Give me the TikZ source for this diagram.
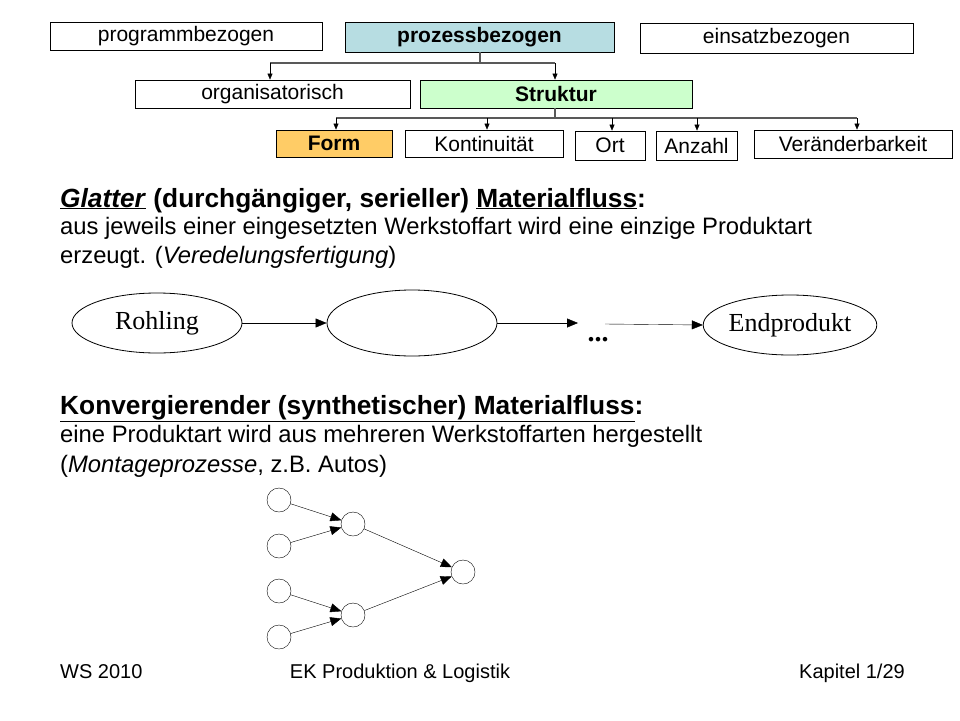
\documentclass[tikz,border=0pt]{standalone}
\usepackage{fontspec}
\setmainfont{Liberation Sans}
\newfontfamily\serifx{Liberation Serif}
\usetikzlibrary{arrows.meta,shapes.geometric}
\begin{document}
\begin{tikzpicture}[x=1pt,y=-1pt,
  box/.style={draw,thick,inner sep=0pt,font=\fontsize{21}{21}\selectfont},
  bbox/.style={box,font=\bfseries\fontsize{21}{21}\selectfont},
  conn/.style={draw=gray!70!black,line width=1.5pt},
  arr/.style={-{Triangle[length=6pt,width=5pt]},black,thin},
  ell/.style={draw,thick,ellipse,inner sep=0pt,font=\serifx\fontsize{26}{26}\selectfont},
  circ/.style={draw,circle,minimum size=24pt,inner sep=0pt},
  tarr/.style={-{Triangle[length=11pt,width=9pt]},thin,black},
  body/.style={anchor=base west,inner sep=0pt,font=\fontsize{23.8}{23.8}\selectfont},
  head/.style={anchor=base west,inner sep=0pt,font=\fontsize{26.3}{26.3}\selectfont},
  foot/.style={inner sep=0pt,font=\fontsize{20}{20}\selectfont,anchor=base}]
\useasboundingbox (0,0) rectangle (960,720);
\node[box,minimum width=272pt,minimum height=28pt] (pg) at (186,36) {programmbezogen};
\node[bbox,fill={rgb,255:red,183;green,221;blue,226},minimum width=269pt,minimum height=30pt] (pz) at (479.5,37) {prozessbezogen};
\node[box,minimum width=273pt,minimum height=30pt] (ez) at (776.5,38) {einsatzbezogen};
\node[box,minimum width=275pt,minimum height=28pt] (org) at (272.5,94) {organisatorisch};
\node[bbox,fill={rgb,255:red,204;green,255;blue,204},minimum width=272pt,minimum height=28pt] (st) at (556,94) {Struktur};
\node[bbox,fill={rgb,255:red,255;green,204;blue,102},minimum width=116pt,minimum height=27pt] (fo) at (334,143.5) {Form};
\node[box,minimum width=158pt,minimum height=27pt] (ko) at (484,143.5) {Kontinuität};
\node[box,minimum width=70pt,minimum height=29pt] (ort) at (610,145.5) {Ort};
\node[box,minimum width=81pt,minimum height=29pt] (an) at (696.5,145.5) {Anzahl};
\node[box,minimum width=198pt,minimum height=28pt] (ve) at (853,144) {Veränderbarkeit};
% connectors
\coordinate (j1) at (480,63);
\draw[conn] (pz.south -| j1) -- (j1);
\draw[conn] (270,63) -- (555,63);
\draw[arr] (270,63) -- (org.north -| 270,0);
\draw[arr] (555,63) -- (st.north -| 555,0);
\coordinate (j2) at (555,118);
\draw[conn] (st.south -| j2) -- (j2);
\draw[conn] (336,118) -- (857,118);
\draw[arr] (336,118) -- (fo.north -| 336,0);
\draw[arr] (487,118) -- (ko.north -| 487,0);
\draw[arr] (612,118) -- (ort.north -| 612,0);
\draw[arr] (697,118) -- (an.north -| 697,0);
\draw[arr] (857,118) -- (ve.north -| 857,0);
% text 1
\node[head] (h1) at (60,207) {\underline{\textbf{\textit{Glatter}}}\textbf{ (durchgängiger, serieller) \underline{Materialfluss}:}};
\node[body] (t1) at (60,234) {aus jeweils einer eingesetzten Werkstoffart wird eine einzige Produktart};
\node[body] (t2) at (60,263) {erzeugt. (\textit{Veredelungsfertigung})};
% ellipses
\node[ell,minimum width=170pt,minimum height=60pt] (e1) at (157,323) {Rohling};
\node[ell,minimum width=170pt,minimum height=66pt] (e2) at (412,323) {};
\node[ell,minimum width=170pt,minimum height=60pt] (e3) at (790,325) {Endprodukt};
\coordinate (d) at (578,323);
\coordinate (d2) at (605,324);
\node[font=\serifx\bfseries\fontsize{28}{28}\selectfont,inner sep=0pt] (dots) at (598,340) {...};
\draw[tarr] (e1) -- (e2);
\draw[tarr] (e2) -- (d);
\draw[tarr] (d2) -- (e3.west);
% text 2
\node[head] (h2) at (60,414) {\textbf{\underline{Konvergierender (synthetischer) Materialfluss}:}};
\node[body] (t3) at (60,442) {eine Produktart wird aus mehreren Werkstoffarten hergestellt};
\node[body] (t4) at (60,472) {(\textit{Montageprozesse}, z.B. Autos)};
% tree
\node[circ] (a1) at (279,500) {};
\node[circ] (a2) at (279,546) {};
\node[circ] (a3) at (279,591) {};
\node[circ] (a4) at (279,637) {};
\node[circ] (b1) at (353,524) {};
\node[circ] (b2) at (353,615) {};
\node[circ] (c) at (463,572) {};
\draw[tarr] (a1) -- (b1);
\draw[tarr] (a2) -- (b1);
\draw[tarr] (a3) -- (b2);
\draw[tarr] (a4) -- (b2);
\draw[tarr] (b1) -- (c);
\draw[tarr] (b2) -- (c);
% footer
\node[foot,anchor=base west] (f1) at (60,678) {WS 2010};
\node[foot] (f2) at (400,678) {EK Produktion \& Logistik};
\node[foot,anchor=base east] (f3) at (905,678) {Kapitel 1/29};
\end{tikzpicture}
\end{document}
